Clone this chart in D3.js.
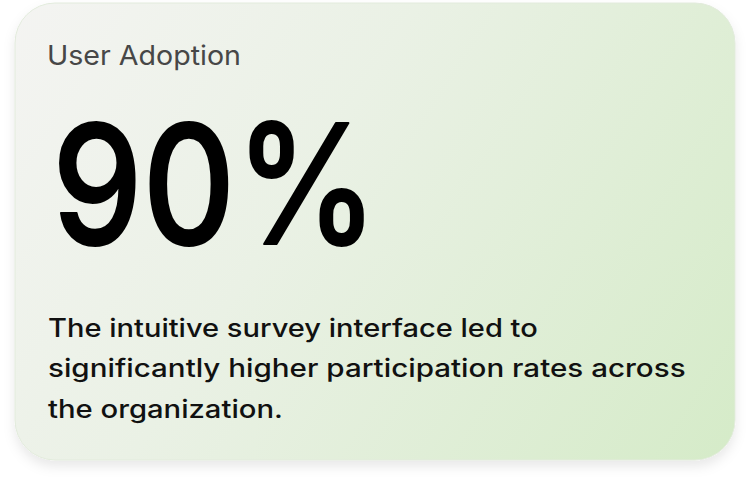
<!DOCTYPE html>
<html>
<head>
<meta charset="utf-8">
<script src="https://cdn.jsdelivr.net/npm/d3@7"></script>
<style>
  html, body { margin: 0; padding: 0; background: #fff; }
  svg { display: block; }
</style>
</head>
<body>
<div id="chart"></div>
<script>
// card content
const title = 'User Adoption';
const value = 90;
const valueSuffix = '%';
const descriptionLines = [
    'The intuitive survey interface led to',
    'significantly higher participation rates across',
    'the organization.'
];

const width = 751, height = 488;
const card = { x: 15, y: 3, w: 720, h: 457, r: 40 };
const font = 'Inter, "Open Sans", sans-serif';

const svg = d3.select('#chart').append('svg')
    .attr('width', width)
    .attr('height', height);

const defs = svg.append('defs');

// ----- background gradient (user space so the diagonal is a true 45deg-ish sweep)
const grad = defs.append('linearGradient')
    .attr('id', 'bg')
    .attr('gradientUnits', 'userSpaceOnUse')
    .attr('x1', card.x).attr('y1', card.y)
    .attr('x2', card.x + card.w).attr('y2', card.y + card.h);
grad.append('stop').attr('offset', '0%').attr('stop-color', '#f4f4f2');
grad.append('stop').attr('offset', '40%').attr('stop-color', '#eaf1e5');
grad.append('stop').attr('offset', '100%').attr('stop-color', '#d5ebc8');

// ----- shadow
const shadow = defs.append('filter')
    .attr('id', 'shadow')
    .attr('x', '-10%').attr('y', '-10%')
    .attr('width', '120%').attr('height', '125%');
shadow.append('feDropShadow')
    .attr('dx', 0).attr('dy', 6)
    .attr('stdDeviation', 6)
    .attr('flood-color', '#000')
    .attr('flood-opacity', 0.09);

svg.append('rect')
    .attr('x', card.x).attr('y', card.y)
    .attr('width', card.w).attr('height', card.h)
    .attr('rx', card.r).attr('ry', card.r)
    .attr('fill', 'url(#bg)')
    .attr('stroke', '#e2ebdc')
    .attr('stroke-width', 1)
    .attr('filter', 'url(#shadow)');

// stretch a text horizontally so it spans the given width
function fitWidth(sel, w) {
    sel.each(function () {
        const node = d3.select(this);
        const x = +node.attr('x');
        const len = this.getComputedTextLength();
        const sx = w / len;
        node.attr('transform', `translate(${x},0) scale(${sx},1) translate(${-x},0)`);
    });
}

// ----- title
svg.append('text')
    .attr('x', 47).attr('y', 65)
    .attr('font-family', font)
    .attr('font-size', 27)
    .attr('fill', '#474747')
    .text(title)
    .call(fitWidth, 194);

// ----- big number
svg.append('text')
    .attr('x', 52).attr('y', 244)
    .attr('font-family', font)
    .attr('font-size', 166)
    .attr('font-weight', 500)
    .attr('fill', '#000')
    .attr('stroke', '#000')
    .attr('stroke-width', 2)
    .attr('stroke-linejoin', 'round')
    .text(d3.format('d')(value) + valueSuffix)
    .call(fitWidth, 326);

// ----- description
const lineWidths = [490, 638, 235];
svg.append('g')
    .selectAll('text')
    .data(descriptionLines)
    .join('text')
    .attr('x', 48)
    .attr('y', (d, i) => 337 + i * 40.5)
    .attr('font-family', font)
    .attr('font-size', 25)
    .attr('font-weight', 500)
    .attr('fill', '#111')
    .text(d => d)
    .each(function (d, i) { d3.select(this).call(fitWidth, lineWidths[i]); });
</script>
</body>
</html>
